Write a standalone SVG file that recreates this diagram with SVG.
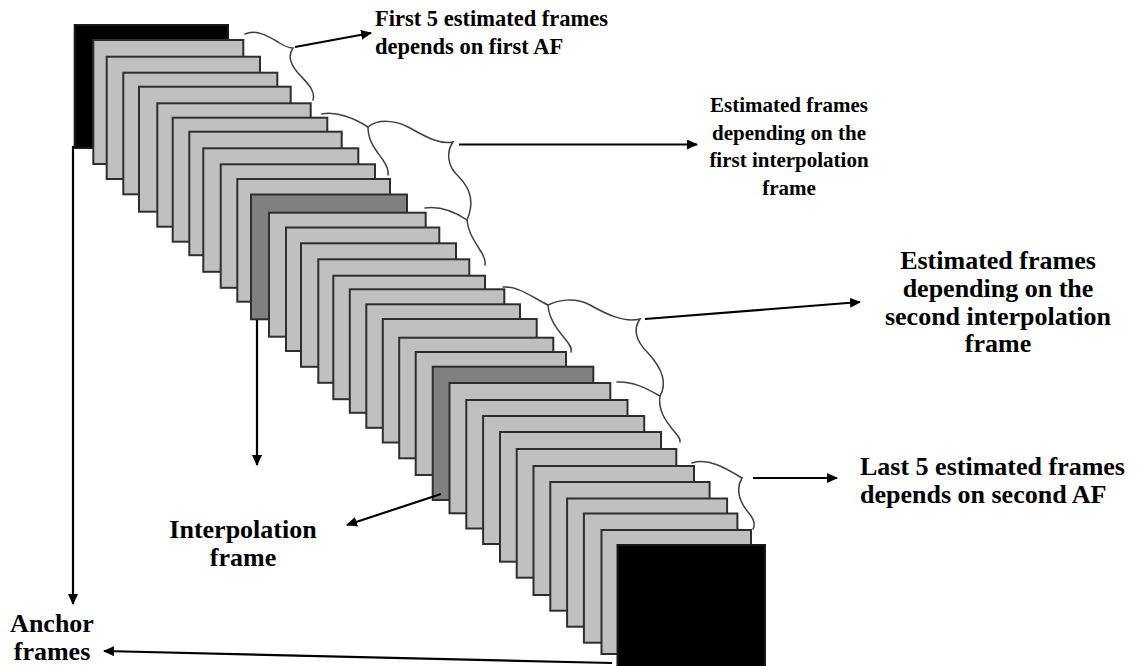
<svg xmlns="http://www.w3.org/2000/svg" width="1141" height="666" viewBox="0 0 1141 666">
  <defs>
    <style>
      .fr { fill: #c0c0c0; stroke: #2e2e2e; stroke-width: 2; }
      .ip { fill: #808080; stroke: #2e2e2e; stroke-width: 2; }
      .af { fill: #000000; stroke: #1a1a1a; stroke-width: 2; }
      .brace { fill: none; stroke: #404040; stroke-width: 1.5; stroke-linecap: round; }
      .arr { fill: none; stroke: #000000; stroke-width: 2.2; marker-end: url(#ah); }
      .lbl { font-family: "Liberation Serif", "Times New Roman", serif; font-weight: bold; font-size: 26px; fill: #000000; }
      .sm1 { font-size: 22.5px; }
      .sm2 { font-size: 21px; }
      .mid { text-anchor: middle; }
    </style>
    <marker id="ah" viewBox="0 0 11 10" refX="10" refY="5" markerWidth="11" markerHeight="10" markerUnits="userSpaceOnUse" orient="auto">
      <path d="M0,0 L11,5 L0,10 z" fill="#000000"/>
    </marker>
  </defs>

  <rect x="0" y="0" width="1141" height="666" fill="#ffffff"/>

  <!-- frame sequence, back to front -->
  <g id="frames">
    <g id="frame-00"><rect class="af" x="74.7" y="25" width="153.3" height="123"/></g>
    <g id="frame-01"><rect class="fr" x="93.3" y="40" width="150" height="124"/></g>
    <g id="frame-02"><rect class="fr" x="106.7" y="56.7" width="153.3" height="122.3"/></g>
    <g id="frame-03"><rect class="fr" x="123.3" y="72.7" width="154" height="121.6"/></g>
    <g id="frame-04"><rect class="fr" x="139" y="86.7" width="151.7" height="125"/></g>
    <g id="frame-05"><rect class="fr" x="157.3" y="103.3" width="153.4" height="123.4"/></g>
    <g id="frame-06"><rect class="fr" x="172.7" y="117.7" width="154.6" height="124"/></g>
    <g id="frame-07"><rect class="fr" x="189.3" y="131.7" width="152.4" height="123.5"/></g>
    <g id="frame-08"><rect class="fr" x="203.3" y="148.3" width="155" height="123.5"/></g>
    <g id="frame-09"><rect class="fr" x="220.7" y="164.3" width="154.3" height="123.5"/></g>
    <g id="frame-10"><rect class="fr" x="237.3" y="179" width="152.7" height="122.7"/></g>
    <g id="frame-11"><rect class="ip" x="251" y="194.5" width="156" height="124.8"/></g>
    <g id="frame-12"><rect class="fr" x="269" y="212.7" width="156.7" height="124"/></g>
    <g id="frame-13"><rect class="fr" x="286" y="227.5" width="153.3" height="123.5"/></g>
    <g id="frame-14"><rect class="fr" x="301" y="243.3" width="155" height="123.5"/></g>
    <g id="frame-15"><rect class="fr" x="318.3" y="259.3" width="151" height="123.5"/></g>
    <g id="frame-16"><rect class="fr" x="333.3" y="275.7" width="151.7" height="123.5"/></g>
    <g id="frame-17"><rect class="fr" x="349.8" y="289.3" width="154.5" height="123.5"/></g>
    <g id="frame-18"><rect class="fr" x="366.3" y="304.3" width="153.7" height="123.5"/></g>
    <g id="frame-19"><rect class="fr" x="382.8" y="319" width="153.9" height="123.5"/></g>
    <g id="frame-20"><rect class="fr" x="399.2" y="337.7" width="154.1" height="120.6"/></g>
    <g id="frame-21"><rect class="fr" x="415.7" y="352" width="150.3" height="123"/></g>
    <g id="frame-22"><rect class="ip" x="432.7" y="366.7" width="160.6" height="133.3"/></g>
    <g id="frame-23"><rect class="fr" x="449.5" y="383" width="160.8" height="130.3"/></g>
    <g id="frame-24"><rect class="fr" x="466.3" y="400" width="161.2" height="128.5"/></g>
    <g id="frame-25"><rect class="fr" x="483.1" y="416" width="161.1" height="128"/></g>
    <g id="frame-26"><rect class="fr" x="500" y="432" width="161" height="129.7"/></g>
    <g id="frame-27"><rect class="fr" x="516.7" y="449" width="159.6" height="128.7"/></g>
    <g id="frame-28"><rect class="fr" x="533.5" y="466" width="160.5" height="129"/></g>
    <g id="frame-29"><rect class="fr" x="550.3" y="482" width="159.3" height="128.7"/></g>
    <g id="frame-30"><rect class="fr" x="567.1" y="498.5" width="160" height="128.2"/></g>
    <g id="frame-31"><rect class="fr" x="583.9" y="513.5" width="153.5" height="129.2"/></g>
    <g id="frame-32"><rect class="fr" x="601.5" y="530" width="149.5" height="124"/></g>
    <g id="frame-33"><rect class="af" x="617.5" y="545" width="147.5" height="130"/></g>
  </g>

  <!-- braces grouping the estimated frames -->
  <g id="braces">
    <path class="brace" d="M245,34 C256,29 268,36 278,42 C284,46 288,48 293,48 C288,55 290,64 298,73 C306,82 316,90 313,100"/>
    <path class="brace" d="M322,114 C336,111 354,118 368,127 C368,142 376,150 383,160 C387,166 389,170 388,175"/>
    <path class="brace" d="M368,127 C378,119 395,120 408,127 C423,135 438,145 453,142 C446,152 447,166 459,177 C471,189 474,204 467,220"/>
    <path class="brace" d="M425,208 C440,206 455,212 467,220 C468,232 474,240 480,250 C484,256 486,260 485,265"/>
    <path class="brace" d="M503,287 C518,286 532,297 548,305 C549,320 558,330 566,340 C570,345 572,348 571,352"/>
    <path class="brace" d="M548,305 C558,300 575,297 590,305 C606,314 624,323 640,319 C633,329 636,341 648,353 C660,366 668,382 660,396"/>
    <path class="brace" d="M617,382 C632,381 646,388 660,396 C658,410 665,420 673,430 C678,436 681,439 680,442"/>
    <path class="brace" d="M692,463 C708,458 724,467 742,478 C735,490 740,502 748,512 C754,519 756,524 753,529"/>
  </g>

  <!-- connectors -->
  <g id="connectors">
    <path class="arr" d="M295,47 L371,33"/>
    <path class="arr" d="M459,144.5 L697,144.5"/>
    <path class="arr" d="M645,319 L860,302"/>
    <path class="arr" d="M753,478 L837,478"/>
    <path class="arr" d="M73,146 L73,604"/>
    <path class="arr" d="M257,320 L257,465"/>
    <path class="arr" d="M441,494 L347,525"/>
    <path class="arr" d="M612,663 L104,651"/>
  </g>

  <!-- labels -->
  <g id="label-first-af">
    <text class="lbl sm1" x="375" y="26">First 5 estimated frames</text>
    <text class="lbl sm1" x="375" y="54">depends on first AF</text>
  </g>
  <g id="label-first-ip">
    <text class="lbl sm2 mid" x="789" y="112">Estimated frames</text>
    <text class="lbl sm2 mid" x="789" y="140">depending on the</text>
    <text class="lbl sm2 mid" x="789" y="167">first interpolation</text>
    <text class="lbl sm2 mid" x="789" y="195">frame</text>
  </g>
  <g id="label-second-ip">
    <text class="lbl mid" x="998" y="269">Estimated frames</text>
    <text class="lbl mid" x="998" y="297">depending on the</text>
    <text class="lbl mid" x="998" y="325">second interpolation</text>
    <text class="lbl mid" x="998" y="352">frame</text>
  </g>
  <g id="label-second-af">
    <text class="lbl" x="860" y="475">Last 5 estimated frames</text>
    <text class="lbl" x="860" y="503">depends on second AF</text>
  </g>
  <g id="label-interp">
    <text class="lbl mid" x="243" y="538">Interpolation</text>
    <text class="lbl mid" x="243" y="566">frame</text>
  </g>
  <g id="label-anchor">
    <text class="lbl mid" x="52" y="632">Anchor</text>
    <text class="lbl mid" x="52" y="660">frames</text>
  </g>
</svg>
